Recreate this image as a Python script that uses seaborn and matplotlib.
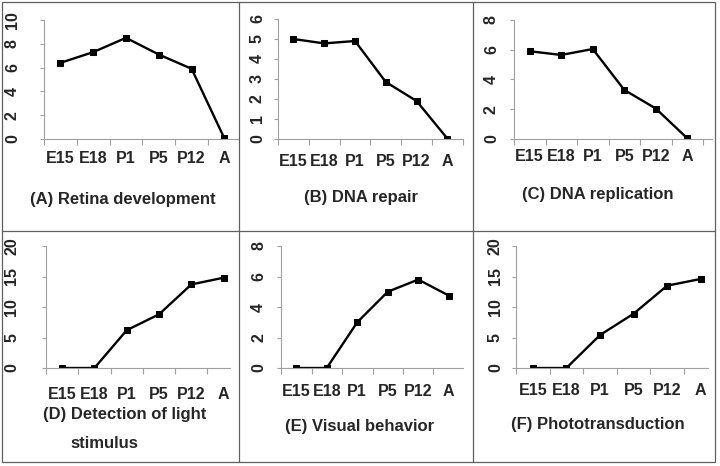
import matplotlib
matplotlib.use("Agg")
import matplotlib.pyplot as plt
import seaborn as sns
import pandas as pd
from matplotlib.lines import Line2D

stages = ['E15', 'E18', 'P1', 'P5', 'P12', 'A']

retina = [6.4, 7.3, 8.5, 7.1, 5.9, 0.05]
dna_repair = [5.0, 4.78, 4.9, 2.85, 1.9, 0.02]
dna_replication = [5.9, 5.65, 6.05, 3.3, 2.05, 0.05]
light_detection = [0, 0, 6.2, 8.8, 13.7, 14.8]
visual_behavior = [0, 0, 3.0, 5.0, 5.8, 4.75]
phototransduction = [0, 0, 5.4, 8.9, 13.5, 14.6]

titles = ['(A) Retina development', '(B) DNA repair', '(C) DNA replication',
          '(D) Detection of light', '(E) Visual behavior', '(F) Phototransduction']
series = [retina, dna_repair, dna_replication, light_detection, visual_behavior, phototransduction]
ymax = [10, 6, 8, 20, 8, 20]
ystep = [2, 1, 2, 5, 2, 5]

sns.set_style("white")
plt.rcParams['font.family'] = ['Liberation Sans', 'DejaVu Sans']
plt.rcParams['font.weight'] = 'bold'

W, H = 720, 466
fig = plt.figure(figsize=(7.2, 4.66), dpi=100)

# pixel layout: left, category width, axis end, top, bottom, xpad, ypad, title x, title y
layout = [
    (44, 32.8, 239, 20, 139, 9, 14.3, 123, 199),
    (278, 30.8, 463, 19, 139, 11, 6.4, 361, 198),
    (514, 31.5, 712, 20, 139, 7.5, 7.8, 598, 195),
    (46, 32.3, 230, 246, 368, 14, 16.4, 125, 415),
    (281, 30.5, 463, 246, 368, 11.5, 7.8, 360, 426),
    (516, 33.6, 708, 246, 368, 10.5, 6.4, 598, 425),
]

for vals, title, ym, ys, lay in zip(series, titles, ymax, ystep, layout):
    left, cw, end, top, bottom, xpad, ypad, tx, ty = lay
    ax = fig.add_axes([left / W, 1 - bottom / H, (end - left) / W, (bottom - top) / H])
    df = pd.DataFrame({'x': range(len(stages)), 'y': vals})
    sns.lineplot(data=df, x='x', y='y', ax=ax, color='black', lw=1.7,
                 marker='s', markersize=4.5, markeredgecolor='black')
    ax.set_xlim(-0.5, -0.5 + (end - left) / cw)
    ax.set_ylim(0, ym)
    ax.set_xticks(range(len(stages)))
    ax.set_xticklabels(stages)
    bounds = [b - 0.5 for b in range(len(stages) + 1) if b - 0.5 <= ax.get_xlim()[1]]
    ax.set_xticks(bounds, minor=True)
    ax.set_yticks(range(0, ym + 1, ys))
    ax.tick_params(axis='x', which='major', length=0, pad=xpad, labelsize=11.5)
    ax.tick_params(axis='x', which='minor', length=4, width=0.8, color='#a0a0a0', direction='out', bottom=True)
    ax.tick_params(axis='y', length=3, width=0.8, color='#a0a0a0', direction='out', left=True, pad=ypad, labelsize=11.5)
    for lab in ax.get_yticklabels():
        lab.set_rotation(90)
        lab.set_va('center')
    ax.set_xlabel('')
    ax.set_ylabel('')
    for s in ['top', 'right']:
        ax.spines[s].set_visible(False)
    for s in ['left', 'bottom']:
        ax.spines[s].set_color('#a0a0a0')
        ax.spines[s].set_linewidth(0.8)
    fig.text(tx / W, 1 - ty / H, title, ha='center', va='center', fontsize=12, fontweight='bold')

fig.text(104 / W, 1 - 444 / H, 'stimulus', ha='center', va='center', fontsize=12, fontweight='bold')

# panel separators and frame
gray = '#606060'
for x in [239, 473]:
    fig.add_artist(Line2D([x / W, x / W], [1 - 462 / H, 1 - 2 / H], color=gray, lw=0.9))
fig.add_artist(Line2D([2 / W, 715 / W], [1 - 231 / H, 1 - 231 / H], color=gray, lw=0.9))
fig.add_artist(plt.Rectangle((2 / W, 1 - 462 / H), 713 / W, 460 / H, fill=False, ec=gray, lw=0.9))

fig.savefig('out.png', dpi=100)
